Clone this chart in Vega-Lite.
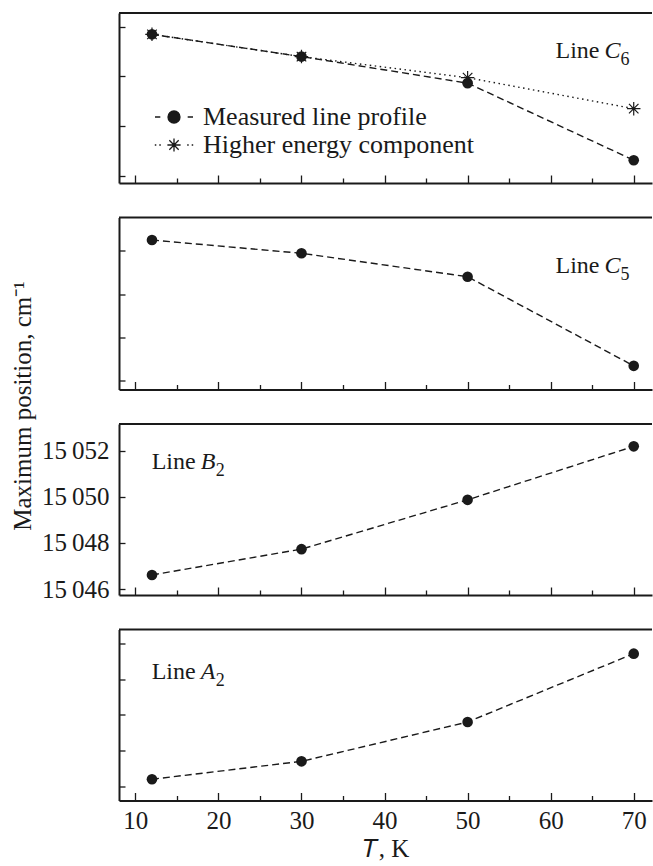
{
  "$schema": "https://vega.github.io/schema/vega-lite/v6.json",
  "padding": {"left": 10, "top": 12, "right": 0, "bottom": 0},
  "background": "white",
  "spacing": 34.5,
  "bounds": "flush",
  "config": {
    "view": {"stroke": null},
    "font": "Liberation Serif",
    "axis": {
      "labelFont": "Liberation Serif", "titleFont": "Liberation Serif",
      "labelFontSize": 25, "titleFontSize": 25, "titleFontWeight": "normal",
      "labelColor": "#1a1a1a", "titleColor": "#1a1a1a",
      "domainColor": "#1a1a1a", "tickColor": "#1a1a1a",
      "domainWidth": 2, "tickWidth": 1.3, "grid": false, "labelOverlap": false
    },
    "text": {"font": "Liberation Serif", "color": "#1a1a1a", "fontWeight": "normal"}
  },
  "datasets": {
    "d": [
      {"panel": "C6", "series": "Measured line profile", "T": 12, "pos": 18376.2},
      {"panel": "C6", "series": "Measured line profile", "T": 30, "pos": 18375.3},
      {"panel": "C6", "series": "Measured line profile", "T": 50, "pos": 18374.23},
      {"panel": "C6", "series": "Measured line profile", "T": 70, "pos": 18371.12},
      {"panel": "C6", "series": "Higher energy component", "T": 12, "pos": 18376.2},
      {"panel": "C6", "series": "Higher energy component", "T": 30, "pos": 18375.3},
      {"panel": "C6", "series": "Higher energy component", "T": 50, "pos": 18374.45},
      {"panel": "C6", "series": "Higher energy component", "T": 70, "pos": 18373.2},
      {"panel": "C5", "series": "Measured line profile", "T": 12, "pos": 18323.49},
      {"panel": "C5", "series": "Measured line profile", "T": 30, "pos": 18322.88},
      {"panel": "C5", "series": "Measured line profile", "T": 50, "pos": 18321.8},
      {"panel": "C5", "series": "Measured line profile", "T": 70, "pos": 18317.69},
      {"panel": "B2", "series": "Measured line profile", "T": 12, "pos": 15046.61},
      {"panel": "B2", "series": "Measured line profile", "T": 30, "pos": 15047.73},
      {"panel": "B2", "series": "Measured line profile", "T": 50, "pos": 15049.87},
      {"panel": "B2", "series": "Measured line profile", "T": 70, "pos": 15052.19},
      {"panel": "A2", "series": "Measured line profile", "T": 12, "pos": 11715.7},
      {"panel": "A2", "series": "Measured line profile", "T": 30, "pos": 11716.2},
      {"panel": "A2", "series": "Measured line profile", "T": 50, "pos": 11717.3},
      {"panel": "A2", "series": "Measured line profile", "T": 70, "pos": 11719.21}
    ],
    "one": [{"k": 1}]
  },
  "vconcat": [
    {
      "width": 533, "height": 170,
      "layer": [
        {
          "data": {"name": "d"},
          "transform": [{"filter": "datum.panel === 'C6' && datum.series === 'Measured line profile'"}],
          "mark": {"type": "line", "strokeWidth": 1.4, "color": "#1a1a1a", "strokeDash": [7, 4]},
          "encoding": {
            "x": {"field": "T", "type": "quantitative", "scale": {"domain": [8.03, 72.2], "nice": false, "zero": false},
                  "axis": {"orient": "bottom", "values": [10,15,20,25,30,35,40,45,50,55,60,65,70], "labels": false, "title": null,
                           "tickSize": {"condition": {"test": "datum.value % 10 === 0", "value": -8}, "value": -5}}},
            "y": {"field": "pos", "type": "quantitative", "scale": {"domain": [18370.2, 18377.06], "nice": false, "zero": false},
                  "axis": {"orient": "left", "title": null, "tickSize": -6, "labelPadding": 16, "labelOverlap": false,
                           "values": [18372,18372.5,18373,18373.5,18374,18374.5,18375,18375.5,18376,18376.5,18377,18370.5,18371,18371.5],
                           "labelExpr": "datum.value % 2 === 0 ? slice(toString(datum.value),0,2) + '\u2009' + slice(toString(datum.value),2) : ''"}},
            "opacity": {"field": "series", "type": "nominal",
              "scale": {"domain": ["Measured line profile", "Higher energy component"], "range": [1, 1]},
              "legend": {"orient": "none", "legendX": 42, "legendY": 91, "title": null, "padding": 0,
                "labelFont": "Liberation Serif", "labelFontSize": 26, "labelColor": "#1a1a1a", "labelLimit": 500,
                "symbolSize": 144, "labelOffset": 16, "rowPadding": 2, "symbolStrokeWidth": 1.3,
                "encoding": {"symbols": {
                  "shape": {"condition": {"test": "datum.value === 'Measured line profile'", "value": "M-3.17,0L-2.28,0M-1,0A1,1,0,1,0,1,0A1,1,0,1,0,-1,0ZM2.28,0L3.17,0"},
                            "value": "M-3.2,0L-2.95,0M-2.45,0L-2.2,0M-1.1,0L1.1,0M0,-1.1L0,1.1M-0.78,-0.78L0.78,0.78M-0.78,0.78L0.78,-0.78M2.2,0L2.45,0M2.95,0L3.2,0"},
                  "fill": {"condition": {"test": "datum.value === 'Measured line profile'", "value": "#1a1a1a"}, "value": "transparent"},
                  "stroke": {"value": "#1a1a1a"},
                  "strokeDash": {"value": [50, 0]},
                  "size": {"value": 144}
                }}
              }}
          }
        },
        {
          "data": {"name": "d"},
          "transform": [{"filter": "datum.panel === 'C6' && datum.series === 'Higher energy component'"}],
          "mark": {"type": "line", "strokeWidth": 1.4, "color": "#1a1a1a", "strokeDash": [1.5, 3.5]},
          "encoding": {
            "x": {"field": "T", "type": "quantitative"},
            "y": {"field": "pos", "type": "quantitative"}
          }
        },
        {
          "data": {"name": "d"},
          "transform": [{"filter": "datum.panel === 'C6' && datum.series === 'Measured line profile'"}],
          "mark": {"type": "point", "shape": "circle", "filled": true, "size": 113, "color": "#1a1a1a", "opacity": 1},
          "encoding": {"x": {"field": "T", "type": "quantitative"}, "y": {"field": "pos", "type": "quantitative"}}
        },
        {
          "data": {"name": "d"},
          "transform": [{"filter": "datum.panel === 'C6' && datum.series === 'Higher energy component'"}],
          "mark": {"type": "point", "shape": "M-1.35,0L1.35,0M0,-1.35L0,1.35M-0.95,-0.95L0.95,0.95M-0.95,0.95L0.95,-0.95", "filled": false, "size": 100, "strokeWidth": 1.2, "color": "#1a1a1a", "opacity": 1},
          "encoding": {"x": {"field": "T", "type": "quantitative"}, "y": {"field": "pos", "type": "quantitative"}}
        },
        {
          "data": {"name": "one"},
          "mark": {"type": "rule", "strokeWidth": 2, "color": "#1a1a1a"},
          "encoding": {"y": {"datum": 18377.06, "type": "quantitative"}}
        },
        {
          "data": {"name": "one"},
          "mark": {"type": "text", "text": "Line", "fontSize": 24, "align": "left", "baseline": "alphabetic"},
          "encoding": {"x": {"datum": 60.58, "type": "quantitative"}, "y": {"datum": 18375.26, "type": "quantitative"}}
        },
        {
          "data": {"name": "one"},
          "mark": {"type": "text", "text": "C", "fontSize": 24, "fontStyle": "italic", "align": "left", "baseline": "alphabetic", "dx": 49},
          "encoding": {"x": {"datum": 60.58, "type": "quantitative"}, "y": {"datum": 18375.26, "type": "quantitative"}}
        },
        {
          "data": {"name": "one"},
          "mark": {"type": "text", "text": "6", "fontSize": 18, "align": "left", "baseline": "alphabetic", "dx": 65, "dy": 7},
          "encoding": {"x": {"datum": 60.58, "type": "quantitative"}, "y": {"datum": 18375.26, "type": "quantitative"}}
        }
      ]
    },
    {
      "width": 533, "height": 172,
      "layer": [
        {
          "data": {"name": "d"},
          "transform": [{"filter": "datum.panel === 'C5'"}],
          "mark": {"type": "line", "strokeWidth": 1.4, "color": "#1a1a1a", "strokeDash": [7, 4]},
          "encoding": {
            "x": {"field": "T", "type": "quantitative", "scale": {"domain": [8.03, 72.2], "nice": false, "zero": false},
                  "axis": {"orient": "bottom", "values": [10,15,20,25,30,35,40,45,50,55,60,65,70], "labels": false, "title": null,
                           "tickSize": {"condition": {"test": "datum.value % 10 === 0", "value": -8}, "value": -5}}},
            "y": {"field": "pos", "type": "quantitative", "scale": {"domain": [18316.6, 18324.53], "nice": false, "zero": false},
                  "axis": {"orient": "left", "title": "Maximum position, cm⁻¹", "titleY": 188, "titleX": -88.5, "titleBaseline": "alphabetic", "titleAngle": -90, "titleAlign": "center",
                           "tickSize": -6, "labelPadding": 16, "labelOverlap": false,
                           "values": [18318,18318.5,18319,18319.5,18320,18320.5,18321,18321.5,18322,18322.5,18323,18323.5,18324,18324.5,18317,18317.5],
                           "labelExpr": "datum.value % 2 === 0 ? slice(toString(datum.value),0,2) + '\u2009' + slice(toString(datum.value),2) : ''"}}
          }
        },
        {
          "data": {"name": "d"},
          "transform": [{"filter": "datum.panel === 'C5'"}],
          "mark": {"type": "point", "shape": "circle", "filled": true, "size": 113, "color": "#1a1a1a", "opacity": 1},
          "encoding": {"x": {"field": "T", "type": "quantitative"}, "y": {"field": "pos", "type": "quantitative"}}
        },
        {
          "data": {"name": "one"},
          "mark": {"type": "rule", "strokeWidth": 2, "color": "#1a1a1a"},
          "encoding": {"y": {"datum": 18324.53, "type": "quantitative"}}
        },
        {
          "data": {"name": "one"},
          "mark": {"type": "text", "text": "Line", "fontSize": 24, "align": "left", "baseline": "alphabetic"},
          "encoding": {"x": {"datum": 60.58, "type": "quantitative"}, "y": {"datum": 18321.95, "type": "quantitative"}}
        },
        {
          "data": {"name": "one"},
          "mark": {"type": "text", "text": "C", "fontSize": 24, "fontStyle": "italic", "align": "left", "baseline": "alphabetic", "dx": 49},
          "encoding": {"x": {"datum": 60.58, "type": "quantitative"}, "y": {"datum": 18321.95, "type": "quantitative"}}
        },
        {
          "data": {"name": "one"},
          "mark": {"type": "text", "text": "5", "fontSize": 18, "align": "left", "baseline": "alphabetic", "dx": 65, "dy": 7},
          "encoding": {"x": {"datum": 60.58, "type": "quantitative"}, "y": {"datum": 18321.95, "type": "quantitative"}}
        }
      ]
    },
    {
      "width": 533, "height": 171,
      "layer": [
        {
          "data": {"name": "d"},
          "transform": [{"filter": "datum.panel === 'B2'"}],
          "mark": {"type": "line", "strokeWidth": 1.4, "color": "#1a1a1a", "strokeDash": [7, 4]},
          "encoding": {
            "x": {"field": "T", "type": "quantitative", "scale": {"domain": [8.03, 72.2], "nice": false, "zero": false},
                  "axis": {"orient": "bottom", "values": [10,15,20,25,30,35,40,45,50,55,60,65,70], "labels": false, "title": null,
                           "tickSize": {"condition": {"test": "datum.value % 10 === 0", "value": -8}, "value": -5}}},
            "y": {"field": "pos", "type": "quantitative", "scale": {"domain": [15045.74, 15053.16], "nice": false, "zero": false},
                  "axis": {"orient": "left", "title": null, "tickSize": -6, "labelPadding": 16, "labelOverlap": false,
                           "values": [15046,15046.5,15047,15047.5,15048,15048.5,15049,15049.5,15050,15050.5,15051,15051.5,15052,15052.5,15053],
                           "labelExpr": "datum.value % 2 === 0 ? slice(toString(datum.value),0,2) + '\u2009' + slice(toString(datum.value),2) : ''"}}
          }
        },
        {
          "data": {"name": "d"},
          "transform": [{"filter": "datum.panel === 'B2'"}],
          "mark": {"type": "point", "shape": "circle", "filled": true, "size": 113, "color": "#1a1a1a", "opacity": 1},
          "encoding": {"x": {"field": "T", "type": "quantitative"}, "y": {"field": "pos", "type": "quantitative"}}
        },
        {
          "data": {"name": "one"},
          "mark": {"type": "rule", "strokeWidth": 2, "color": "#1a1a1a"},
          "encoding": {"y": {"datum": 15053.16, "type": "quantitative"}}
        },
        {
          "data": {"name": "one"},
          "mark": {"type": "text", "text": "Line", "fontSize": 24, "align": "left", "baseline": "alphabetic"},
          "encoding": {"x": {"datum": 11.96, "type": "quantitative"}, "y": {"datum": 15051.19, "type": "quantitative"}}
        },
        {
          "data": {"name": "one"},
          "mark": {"type": "text", "text": "B", "fontSize": 24, "fontStyle": "italic", "align": "left", "baseline": "alphabetic", "dx": 49},
          "encoding": {"x": {"datum": 11.96, "type": "quantitative"}, "y": {"datum": 15051.19, "type": "quantitative"}}
        },
        {
          "data": {"name": "one"},
          "mark": {"type": "text", "text": "2", "fontSize": 18, "align": "left", "baseline": "alphabetic", "dx": 64, "dy": 7},
          "encoding": {"x": {"datum": 11.96, "type": "quantitative"}, "y": {"datum": 15051.19, "type": "quantitative"}}
        }
      ]
    },
    {
      "width": 533, "height": 171,
      "layer": [
        {
          "data": {"name": "d"},
          "transform": [{"filter": "datum.panel === 'A2'"}],
          "mark": {"type": "line", "strokeWidth": 1.4, "color": "#1a1a1a", "strokeDash": [7, 4]},
          "encoding": {
            "x": {"field": "T", "type": "quantitative", "scale": {"domain": [8.03, 72.2], "nice": false, "zero": false},
                  "axis": {"orient": "bottom", "values": [10,15,20,25,30,35,40,45,50,55,60,65,70], "title": "𝑇, K", "titlePadding": 0,
                           "labelPadding": 16, "labelOverlap": false,
                           "labelExpr": "datum.value % 10 === 0 ? datum.label : ''",
                           "tickSize": {"condition": {"test": "datum.value % 10 === 0", "value": -8}, "value": -5}}},
            "y": {"field": "pos", "type": "quantitative", "scale": {"domain": [11715.106, 11719.885], "nice": false, "zero": false},
                  "axis": {"orient": "left", "title": null, "tickSize": -6, "labelPadding": 16, "labelOverlap": false,
                           "values": [11716,11716.5,11717,11717.5,11718,11718.5,11719,11719.5,11715.5],
                           "labelExpr": "datum.value % 1 === 0 ? slice(toString(datum.value),0,2) + '\u2009' + slice(toString(datum.value),2) : ''"}}
          }
        },
        {
          "data": {"name": "d"},
          "transform": [{"filter": "datum.panel === 'A2'"}],
          "mark": {"type": "point", "shape": "circle", "filled": true, "size": 113, "color": "#1a1a1a", "opacity": 1},
          "encoding": {"x": {"field": "T", "type": "quantitative"}, "y": {"field": "pos", "type": "quantitative"}}
        },
        {
          "data": {"name": "one"},
          "mark": {"type": "rule", "strokeWidth": 2, "color": "#1a1a1a"},
          "encoding": {"y": {"datum": 11719.885, "type": "quantitative"}}
        },
        {
          "data": {"name": "one"},
          "mark": {"type": "text", "text": "Line", "fontSize": 24, "align": "left", "baseline": "alphabetic"},
          "encoding": {"x": {"datum": 11.96, "type": "quantitative"}, "y": {"datum": 11718.49, "type": "quantitative"}}
        },
        {
          "data": {"name": "one"},
          "mark": {"type": "text", "text": "A", "fontSize": 24, "fontStyle": "italic", "align": "left", "baseline": "alphabetic", "dx": 49},
          "encoding": {"x": {"datum": 11.96, "type": "quantitative"}, "y": {"datum": 11718.49, "type": "quantitative"}}
        },
        {
          "data": {"name": "one"},
          "mark": {"type": "text", "text": "2", "fontSize": 18, "align": "left", "baseline": "alphabetic", "dx": 64, "dy": 7},
          "encoding": {"x": {"datum": 11.96, "type": "quantitative"}, "y": {"datum": 11718.49, "type": "quantitative"}}
        }
      ]
    }
  ]
}
